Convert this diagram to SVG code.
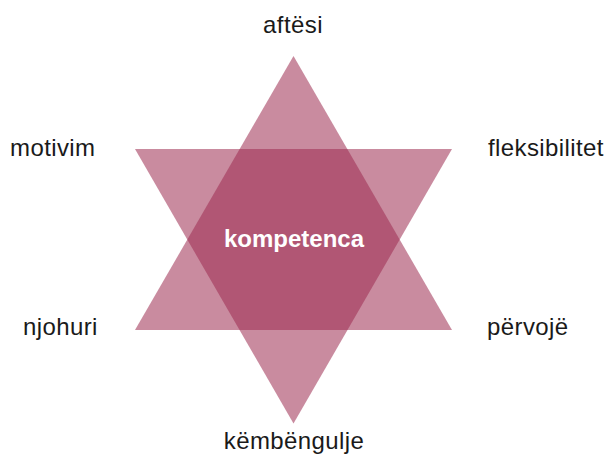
<svg xmlns="http://www.w3.org/2000/svg" width="611" height="457" viewBox="0 0 611 457">
<style>
.tri{fill:#9d2b51;fill-opacity:0.55}
.lbl{font-family:"Liberation Sans",Arial,sans-serif;font-size:24px;fill:#1a1a1a;letter-spacing:0.4px}
.ctr{font-family:"Liberation Sans",Arial,sans-serif;font-size:24px;font-weight:bold;fill:#ffffff}
</style>
<rect width="611" height="457" fill="#ffffff"/>
<g id="star">
<polygon class="tri" points="135,149 452,149 293.5,423.5"/>
<polygon class="tri" points="293.5,56 452,330 135,330"/>
</g>
<g id="connectors"/>
<g id="n-kompetenca"><text class="ctr" x="294" y="247" text-anchor="middle">kompetenca</text></g>
<g id="n-aftesi"><text class="lbl" x="293" y="33" text-anchor="middle">aftësi</text></g>
<g id="n-motivim"><text class="lbl" x="10" y="156">motivim</text></g>
<g id="n-fleksibilitet"><text class="lbl" x="488" y="156">fleksibilitet</text></g>
<g id="n-njohuri"><text class="lbl" x="23" y="335">njohuri</text></g>
<g id="n-pervoje"><text class="lbl" x="487" y="335">përvojë</text></g>
<g id="n-kembengulje"><text class="lbl" x="294" y="449" text-anchor="middle">këmbëngulje</text></g>
</svg>
